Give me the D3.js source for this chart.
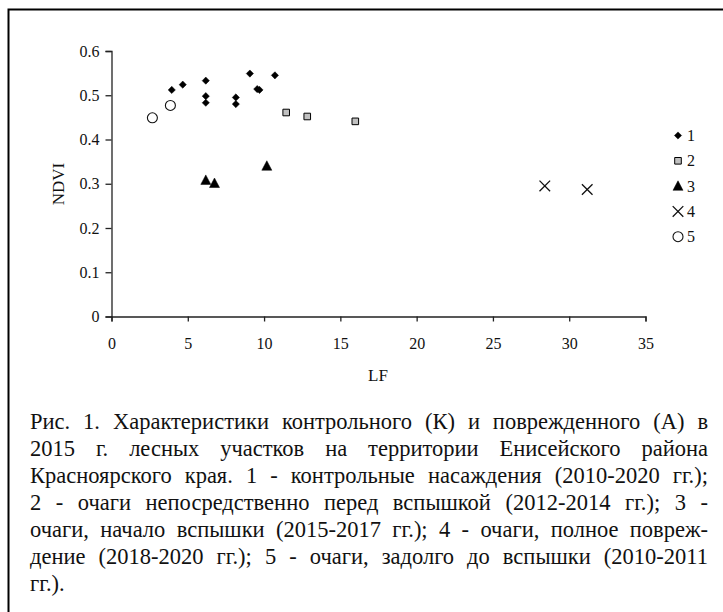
<!DOCTYPE html>
<html>
<head>
<meta charset="utf-8">
<script src="https://cdn.jsdelivr.net/npm/d3@7"></script>
<style>
  html, body { margin: 0; padding: 0; background: #fff; }
  #wrap { position: relative; width: 723px; height: 612px; overflow: hidden; }
  svg { position: absolute; left: 0; top: 0; }
  #caption { position: absolute; left: 30px; top: 408px; width: 678px;
             font-family: "Liberation Serif", "Times New Roman", serif; font-size: 22.5px;
             line-height: 27px; color: #111; }
  #caption div { text-align: justify; text-align-last: justify; white-space: nowrap; }
  #caption div.last { text-align-last: left; }
</style>
</head>
<body>
<div id="wrap"></div>
<script>
// Series: LF (x) and NDVI (y) per group
const group1LF   = [3.95, 4.67, 6.18, 6.18, 6.18, 8.15, 8.15, 9.07, 9.55, 9.70, 10.71];
const group1NDVI = [0.512, 0.524, 0.533, 0.498, 0.483, 0.495, 0.480, 0.549, 0.514, 0.512, 0.545];
const group2LF   = [11.45, 12.83, 15.98];
const group2NDVI = [0.461, 0.452, 0.441];
const group3LF   = [6.18, 6.75, 10.18];
const group3NDVI = [0.308, 0.301, 0.340];
const group4LF   = [28.4, 31.18];
const group4NDVI = [0.295, 0.287];
const group5LF   = [2.68, 3.86];
const group5NDVI = [0.449, 0.477];

const groupNames = ["1", "2", "3", "4", "5"];
const xTicks = [0, 5, 10, 15, 20, 25, 30, 35];
const yTicks = [0, 0.1, 0.2, 0.3, 0.4, 0.5, 0.6];

const captionLines = [
  "Рис. 1. Характеристики  контрольного (К) и поврежденного (А) в",
  "2015 г. лесных участков на территории Енисейского района",
  "Красноярского края. 1 - контрольные насаждения (2010-2020 гг.);",
  "2 - очаги непосредственно перед вспышкой (2012-2014 гг.); 3 -",
  "очаги, начало вспышки (2015-2017 гг.); 4 - очаги, полное повреж-",
  "дение (2018-2020 гг.); 5 - очаги, задолго до вспышки (2010-2011",
  "гг.)."
];

const W = 723, H = 612;
const wrap = d3.select("#wrap");
const svg = wrap.append("svg").attr("width", W).attr("height", H);

// outer frame (only left and top edges fall inside the page)
svg.append("rect").attr("x", 8.5).attr("y", 9.5).attr("width", 760).attr("height", 700)
  .attr("fill", "none").attr("stroke", "#000").attr("stroke-width", 2);

const x = d3.scaleLinear().domain([0, 35]).range([111.5, 645.5]);
const y = d3.scaleLinear().domain([0, 0.6]).range([316.5, 51]);

const serif = '"Liberation Serif", "Times New Roman", serif';

// axes
const xAxis = svg.append("g").attr("transform", `translate(0,${y(0)})`)
  .call(d3.axisBottom(x).tickValues(xTicks).tickSize(5).tickPadding(16).tickFormat(d3.format("d")));
const yAxis = svg.append("g").attr("transform", `translate(${x(0)},0)`)
  .call(d3.axisLeft(y).tickValues(yTicks).tickSize(6).tickPadding(6).tickFormat(d => d === 0 ? "0" : d3.format(".1f")(d)));
[xAxis, yAxis].forEach(g => {
  g.attr("font-family", serif);
  g.selectAll("path.domain").attr("stroke", "#222").attr("stroke-width", 1.3);
  g.selectAll(".tick line").attr("stroke", "#222").attr("stroke-width", 1.3);
  g.selectAll(".tick text").attr("font-family", serif).attr("font-size", 16).attr("fill", "#111");
});

// axis titles
svg.append("text").attr("x", 378).attr("y", 381).attr("text-anchor", "middle")
  .attr("font-family", serif).attr("font-size", 17).attr("fill", "#111").text("LF");
svg.append("text").attr("transform", `translate(63.5,184) rotate(-90)`).attr("text-anchor", "middle")
  .attr("font-family", serif).attr("font-size", 17).attr("fill", "#111").text("NDVI");

// marker shapes
const markers = {
  "1": { path: "M0,-3.6L3.6,0L0,3.6L-3.6,0Z", fill: "#000", stroke: "#000", sw: 0.5 },
  "2": { path: "M-3.3,-3.3H3.3V3.3H-3.3Z", fill: "#c0c0c0", stroke: "#000", sw: 1 },
  "3": { path: "M0,-5.3L5,4.2L-5,4.2Z", fill: "#000", stroke: "#000", sw: 0.5 },
  "4": { path: "M-5.3,-5.3L5.3,5.3M-5.3,5.3L5.3,-5.3", fill: "none", stroke: "#111", sw: 1.3 },
  "5": { path: "M5,0A5,5 0 1 1 -5,0A5,5 0 1 1 5,0Z", fill: "#fff", stroke: "#111", sw: 1.1 }
};

const groups = [
  { key: "1", lf: group1LF, ndvi: group1NDVI },
  { key: "2", lf: group2LF, ndvi: group2NDVI },
  { key: "3", lf: group3LF, ndvi: group3NDVI },
  { key: "4", lf: group4LF, ndvi: group4NDVI },
  { key: "5", lf: group5LF, ndvi: group5NDVI }
];

groups.forEach(g => {
  const m = markers[g.key];
  const pts = g.lf.map((v, i) => [v, g.ndvi[i]]);
  svg.append("g").selectAll("path").data(pts).join("path")
    .attr("transform", d => `translate(${x(d[0])},${y(d[1])})`)
    .attr("d", m.path).attr("fill", m.fill).attr("stroke", m.stroke).attr("stroke-width", m.sw);
});

// legend
const legend = svg.append("g");
groupNames.forEach((name, i) => {
  const m = markers[name];
  const ly = 135.5 + i * 25.3;
  legend.append("path").attr("transform", `translate(678,${ly})`)
    .attr("d", m.path).attr("fill", m.fill).attr("stroke", m.stroke).attr("stroke-width", m.sw);
  legend.append("text").attr("x", 687).attr("y", ly + 5.5)
    .attr("font-family", serif).attr("font-size", 16).attr("fill", "#111").text(name);
});

// caption
const cap = wrap.append("div").attr("id", "caption");
cap.selectAll("div").data(captionLines).join("div")
  .classed("last", (d, i) => i === captionLines.length - 1)
  .text(d => d);
</script>
</body>
</html>
